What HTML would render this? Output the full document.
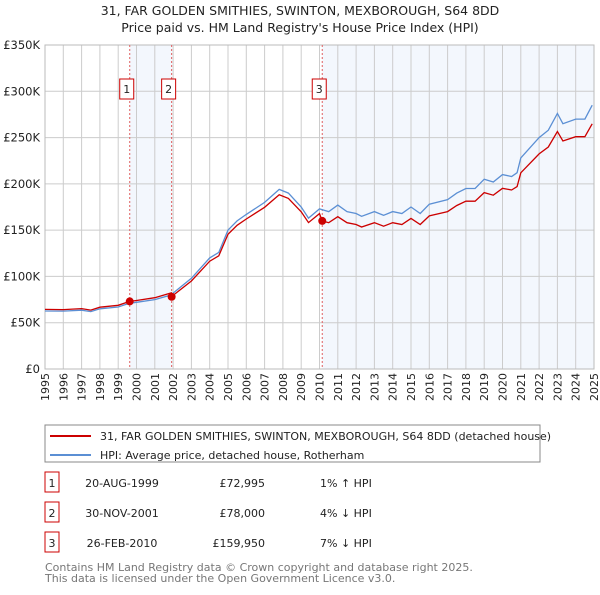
<!DOCTYPE html>
<html><head><meta charset="utf-8"><style>
body{margin:0;background:#fff;font-family:"Liberation Sans","DejaVu Sans",sans-serif;}
svg text{font-family:"DejaVu Sans","Liberation Sans",sans-serif;}
</style></head><body>
<svg id="chart" width="600" height="590" viewBox="0 0 600 590">
<text x="300" y="15" text-anchor="middle" font-size="12.5" fill="#222">31, FAR GOLDEN SMITHIES, SWINTON, MEXBOROUGH, S64 8DD</text>
<text x="300" y="32" text-anchor="middle" font-size="12.5" fill="#222">Price paid vs. HM Land Registry's House Price Index (HPI)</text>
<g id="plot"></g>
<rect x="45" y="425" width="495" height="37" fill="#fff" stroke="#888"/>
<line x1="50" y1="436" x2="91" y2="436" stroke="#cc0000" stroke-width="2"/>
<text x="100" y="440" font-size="11" fill="#222">31, FAR GOLDEN SMITHIES, SWINTON, MEXBOROUGH, S64 8DD (detached house)</text>
<line x1="50" y1="455" x2="91" y2="455" stroke="#5b8fd4" stroke-width="2"/>
<text x="100" y="459" font-size="11" fill="#222">HPI: Average price, detached house, Rotherham</text>
<g id="table" font-size="11" fill="#222"></g>
<text x="45" y="571" font-size="11" fill="#777">Contains HM Land Registry data © Crown copyright and database right 2025.</text>
<text x="45" y="582" font-size="11" fill="#777">This data is licensed under the Open Government Licence v3.0.</text>
</svg>
<script>
const hpiYears=[1995,1996,1997,1997.5,1998,1999,1999.6,2000,2001,2001.9,2002,2003,2004,2004.5,2005,2005.5,2006,2007,2007.8,2008.3,2009,2009.4,2010,2010.5,2011,2011.5,2012,2012.3,2013,2013.5,2014,2014.5,2015,2015.5,2016,2017,2017.5,2018,2018.5,2019,2019.5,2020,2020.5,2020.8,2021,2022,2022.5,2023,2023.3,2024,2024.5,2024.9];
const hpiValues=[62700,62500,63500,62000,65000,67000,71000,72000,75000,80000,82000,98000,120000,126000,150000,160000,167000,180000,194000,190000,175000,163000,173000,170000,177000,170000,168000,165000,170000,166000,170000,168000,175000,168000,178000,183000,190000,195000,195000,205000,202000,210000,208000,212000,228000,250000,258000,276000,265000,270000,270000,285000];
const saleYears=[1999.63,2001.92,2010.15];
const salePrices=[72995,78000,159950];
const saleLabels=["1","2","3"];
const saleDates=["20-AUG-1999","30-NOV-2001","26-FEB-2010"];
const salePriceText=["£72,995","£78,000","£159,950"];
const saleHpiText=["1% ↑ HPI","4% ↓ HPI","7% ↓ HPI"];
const yTicks=[0,50000,100000,150000,200000,250000,300000,350000];
const yTickLabels=["£0","£50K","£100K","£150K","£200K","£250K","£300K","£350K"];
const xTicks=[1995,1996,1997,1998,1999,2000,2001,2002,2003,2004,2005,2006,2007,2008,2009,2010,2011,2012,2013,2014,2015,2016,2017,2018,2019,2020,2021,2022,2023,2024,2025];

const L=45,R=594,T=45,B=369,NS="http://www.w3.org/2000/svg";
const xs=y=>L+(y-1995)/30*(R-L);
const ys=v=>B-v/350000*(B-T);
const plot=document.getElementById('plot');
function mk(tag,attrs,parent){const e=document.createElementNS(NS,tag);for(const k in attrs)e.setAttribute(k,attrs[k]);(parent||plot).appendChild(e);return e;}
function hpiAt(y){for(let i=0;i<hpiYears.length-1;i++){if(y<=hpiYears[i+1]){const t=(y-hpiYears[i])/(hpiYears[i+1]-hpiYears[i]);return hpiValues[i]+t*(hpiValues[i+1]-hpiValues[i]);}}return hpiValues[hpiValues.length-1];}

let s=mk('rect',{x:xs(saleYears[0]),y:T,width:xs(saleYears[1])-xs(saleYears[0]),height:B-T,fill:'#f3f7fd'});


s=mk('rect',{x:xs(saleYears[2]),y:T,width:R-xs(saleYears[2]),height:B-T,fill:'#f3f7fd'});


xTicks.forEach(y=>{
 const g=mk('line',{x1:xs(y),y1:T,x2:xs(y),y2:B,stroke:'#ccc','stroke-width':1});
 
 
 const t=mk('text',{x:0,y:0,transform:`translate(${xs(y)+4},${B+4}) rotate(-90)`,'text-anchor':'end','font-size':11,fill:'#222'});
 t.textContent=y;
 
 
});
yTicks.forEach((v,i)=>{
 const g=mk('line',{x1:L,y1:ys(v),x2:R,y2:ys(v),stroke:'#ccc','stroke-width':1});
 
 
 const t=mk('text',{x:L-5,y:ys(v)+4,'text-anchor':'end','font-size':11.5,fill:'#222'});
 t.textContent=yTickLabels[i];
 
 
});
mk('rect',{x:L,y:T,width:R-L,height:B-T,fill:'none',stroke:'#bbb'});
saleYears.forEach((y,i)=>{
 const l=mk('line',{x1:xs(y),y1:T,x2:xs(y),y2:B,stroke:'#e06060','stroke-width':1,'stroke-dasharray':'2,2'});
 
 
 const bx=mk('rect',{x:xs(y)-10,y:79,width:14,height:20,fill:'#fff',stroke:'#cc0000'});
 
 
 const t=mk('text',{x:xs(y)-3,y:93,'text-anchor':'middle','font-size':11,fill:'#222'});
 t.textContent=saleLabels[i];
 
 
});
let d='';hpiYears.forEach((y,i)=>{d+=(i?'L':'M')+xs(y).toFixed(1)+','+ys(hpiValues[i]).toFixed(1);});
const hp=mk('path',{d:d,fill:'none',stroke:'#5b8fd4','stroke-width':1.3});


function scaleAt(y){let k=0;for(let i=0;i<saleYears.length;i++)if(y>=saleYears[i])k=i;return salePrices[k]/hpiAt(saleYears[k]);}
const pts=[...hpiYears,...saleYears].sort((a,b)=>a-b);
let d2='';pts.forEach((y,i)=>{d2+=(i?'L':'M')+xs(y).toFixed(1)+','+ys(hpiAt(y)*scaleAt(y)).toFixed(1);});
const pp=mk('path',{d:d2,fill:'none',stroke:'#cc0000','stroke-width':1.3});


saleYears.forEach((y,i)=>{
 const c=mk('circle',{cx:xs(y),cy:ys(salePrices[i]),r:4,fill:'#cc0000'});
 
 
});
const tb=document.getElementById('table');
saleYears.forEach((y,i)=>{
 const ry=483+i*30;
 const bx=mk('rect',{x:45,y:ry-11,width:14,height:20,fill:'#fff',stroke:'#cc0000'},tb);
 
 
 const cells=[[52,'middle',saleLabels[i]],[122,'middle',saleDates[i]],[265,'end',salePriceText[i]],[320,'start',saleHpiText[i]]];
 cells.forEach(c=>{const t=mk('text',{x:c[0],y:ry+4,'text-anchor':c[1]},tb);t.textContent=c[2];
  
  });
});
</script>
</body></html>
